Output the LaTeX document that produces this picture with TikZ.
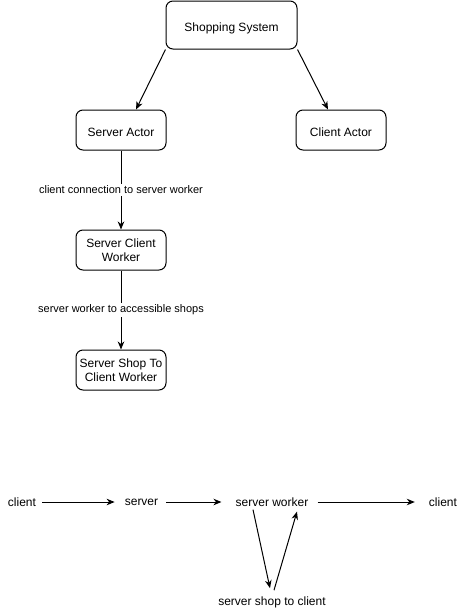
\documentclass[tikz,border=0pt]{standalone}
\usepackage{fontspec}
\setmainfont{Liberation Sans}
\usetikzlibrary{arrows.meta}
\begin{document}
\begin{tikzpicture}[x=1pt,y=-1pt,
  box/.style={draw, rounded corners=7pt, line width=1pt, minimum width=90pt,
    minimum height=40pt, align=center, inner sep=0pt,
    font=\fontsize{12}{14}\selectfont},
  oneline/.style={text height=12.5pt, text depth=0pt},
  lbl/.style={fill=white, inner sep=1.5pt, font=\fontsize{11}{13}\selectfont},
  word/.style={inner sep=0pt, font=\fontsize{12}{14}\selectfont},
  arr/.style={-{Stealth[length=8pt,width=6.5pt,inset=2.5pt]}, line width=1pt},
]
\useasboundingbox (0,0) rectangle (462,611);

% actor hierarchy
\node[box, oneline, minimum width=131pt, minimum height=48pt] (ss) at (231.5,25) {Shopping System};
\node[box, oneline] (sa) at (121,130) {Server Actor};
\node[box, oneline] (ca) at (341,130) {Client Actor};
\node[box] (scw) at (121,250) {Server Client\\Worker};
\node[box] (sstcw) at (121,370) {Server Shop To\\Client Worker};

\draw[arr] (ss.south west) -- ([xshift=15pt]sa.north);
\draw[arr] (ss.south east) -- ([xshift=-13pt]ca.north);
\draw[arr] (sa) -- node[lbl] {client connection to server worker} (scw);
\draw[arr] (scw) -- node[lbl] {server worker to accessible shops} (sstcw);

% message flow
\node[word] (c1) at (22,502) {client};
\node[word] (srv) at (141.5,502) {server};
\node[word] (sw) at (272,502) {server worker};
\node[word] (c2) at (443,502) {client};
\node[word] (ssc) at (272,602) {server shop to client};

\draw[arr] ([xshift=6pt]c1.east) -- ([xshift=-10pt]srv.west);
\draw[arr] ([xshift=8pt]srv.east) -- ([xshift=-14pt]sw.west);
\draw[arr] ([xshift=9pt]sw.east) -- ([xshift=-14pt]c2.west);
\draw[arr] ([xshift=-19pt,yshift=-3pt]sw.south) -- ([xshift=-2pt,yshift=8pt]ssc.north);
\draw[arr] ([xshift=2pt,yshift=6pt]ssc.north) -- ([xshift=25pt,yshift=-5pt]sw.south);
\end{tikzpicture}
\end{document}
